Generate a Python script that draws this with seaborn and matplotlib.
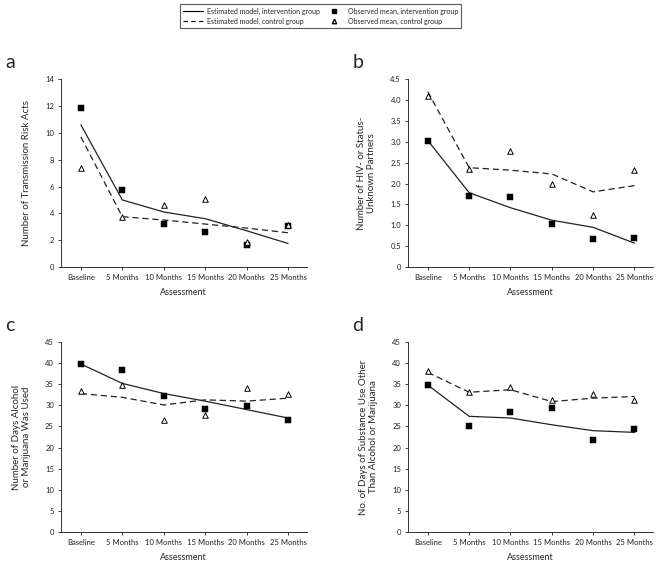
import numpy as np
import pandas as pd
import seaborn as sns
import matplotlib.pyplot as plt
from matplotlib.lines import Line2D

assessments = ['Baseline', '5 Months', '10 Months', '15 Months', '20 Months', '25 Months']

# panel a: transmission risk acts
a_est_int = [10.6, 5.0, 4.1, 3.6, 2.7, 1.75]
a_est_ctl = [9.7, 3.75, 3.5, 3.2, 2.9, 2.55]
a_obs_int = [11.85, 5.75, 3.2, 2.6, 1.65, 3.05]
a_obs_ctl = [7.4, 3.75, 4.6, 5.05, 1.85, 3.1]

# panel b: HIV- or status-unknown partners
b_est_int = [3.03, 1.78, 1.42, 1.12, 0.95, 0.57]
b_est_ctl = [4.2, 2.38, 2.32, 2.23, 1.8, 1.95]
b_obs_int = [3.03, 1.7, 1.67, 1.03, 0.67, 0.70]
b_obs_ctl = [4.1, 2.35, 2.78, 2.0, 1.25, 2.32]

# panel c: days alcohol or marijuana used
c_est_int = [39.8, 35.2, 32.8, 31.0, 29.0, 27.0]
c_est_ctl = [32.8, 31.9, 30.1, 31.3, 31.0, 31.7]
c_obs_int = [39.8, 38.3, 32.3, 29.1, 29.8, 26.6]
c_obs_ctl = [33.5, 34.8, 26.5, 27.8, 34.2, 32.8]

# panel d: days other substance use
d_est_int = [34.8, 27.4, 27.0, 25.4, 24.0, 23.6]
d_est_ctl = [37.8, 33.1, 33.7, 30.9, 31.7, 32.1]
d_obs_int = [34.8, 25.0, 28.5, 29.3, 21.7, 24.3]
d_obs_ctl = [38.2, 33.1, 34.3, 31.3, 32.7, 31.2]

sns.set_theme(style='ticks')
plt.rcParams['font.family'] = ['Lato', 'DejaVu Sans']

fig = plt.figure(figsize=(6.57, 5.62), dpi=100)

panels = [
    ('a', [0.0928, 0.525, 0.374, 0.334], (a_est_int, a_est_ctl, a_obs_int, a_obs_ctl),
     'Number of Transmission Risk Acts', (0, 14), np.arange(0, 15, 2), lambda v: '%d' % v),
    ('b', [0.621, 0.525, 0.373, 0.334], (b_est_int, b_est_ctl, b_obs_int, b_obs_ctl),
     'Number of HIV- or Status-\nUnknown Partners', (0, 4.5), np.arange(0, 4.6, 0.5),
     lambda v: '0' if v == 0 else '%.1f' % v),
    ('c', [0.0928, 0.0534, 0.374, 0.338], (c_est_int, c_est_ctl, c_obs_int, c_obs_ctl),
     'Number of Days Alcohol\nor Marijuana Was Used', (0, 45), np.arange(0, 46, 5), lambda v: '%d' % v),
    ('d', [0.621, 0.0534, 0.373, 0.338], (d_est_int, d_est_ctl, d_obs_int, d_obs_ctl),
     'No. of Days of Substance Use Other\nThan Alcohol or Marijuana', (0, 45), np.arange(0, 46, 5),
     lambda v: '%d' % v),
]

x = np.arange(len(assessments))
for letter, rect, vals, ylab, ylim, yt, fmt in panels:
    ax = fig.add_axes(rect)
    est = pd.DataFrame({'x': np.concatenate([x, x]),
                        'y': vals[0] + vals[1],
                        'group': ['int'] * 6 + ['ctl'] * 6})
    sns.lineplot(data=est, x='x', y='y', style='group', ax=ax, color='#222222', lw=0.9,
                 dashes={'int': '', 'ctl': (5, 3)}, legend=False)
    sns.scatterplot(x=x, y=vals[2], marker='s', color='black', s=18, edgecolor='black', ax=ax, zorder=3)
    sns.scatterplot(x=x, y=vals[3], marker='^', facecolor='white', edgecolor='black', s=16,
                    linewidth=0.7, ax=ax, zorder=3)
    ax.set_xlim(-0.48, 5.45)
    ax.set_ylim(*ylim)
    ax.set_xticks(x)
    ax.set_xticklabels(assessments, fontsize=5.5)
    ax.set_yticks(yt)
    ax.set_yticklabels([fmt(v) for v in yt], fontsize=5.5)
    ax.tick_params(axis='both', length=2, width=0.6, pad=3, colors='#222222')
    for s in ['left', 'bottom']:
        ax.spines[s].set_linewidth(0.7)
        ax.spines[s].set_color('#333333')
    sns.despine(ax=ax)
    ax.set_xlabel('Assessment', fontsize=6.5, labelpad=5)
    ax.set_ylabel(ylab, fontsize=7, labelpad=10)
    fig.text(rect[0] - 0.085, rect[1] + rect[3] + 0.03, letter, fontsize=14, va='center', ha='left')

handles = [Line2D([], [], color='black', lw=0.8),
           Line2D([], [], color='black', lw=0.8, ls=(0, (4, 3))),
           Line2D([], [], marker='s', color='black', ls='', ms=3.2),
           Line2D([], [], marker='^', markerfacecolor='white', markeredgecolor='black', ls='', ms=3.2)]
labels = ['Estimated model, intervention group', 'Estimated model, control group',
          'Observed mean, intervention group', 'Observed mean, control group']
leg = fig.legend(handles, labels, loc='upper center', bbox_to_anchor=(0.488, 0.999), ncol=2,
                 fontsize=5, frameon=True, fancybox=False, edgecolor='#333333', handlelength=2.8,
                 handletextpad=0.6, columnspacing=0.6, borderpad=0.5, labelspacing=0.45)
leg.get_frame().set_linewidth(0.8)

fig.savefig('out.png', dpi=100)
